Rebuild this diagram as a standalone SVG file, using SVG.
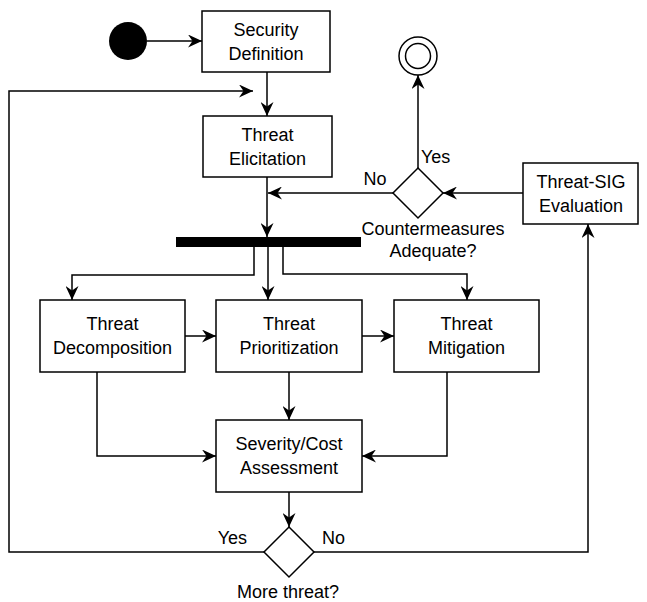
<svg xmlns="http://www.w3.org/2000/svg" width="647" height="602" viewBox="0 0 647 602">
<style>
.box{fill:#fff;stroke:#000;stroke-width:1.5}
.dia{fill:#fff;stroke:#000;stroke-width:1.5}
.t{font-family:"Liberation Sans",Arial,sans-serif;font-size:18px;fill:#000}
.c{text-anchor:middle}
.e{text-anchor:end}
.ln{fill:none;stroke:#000;stroke-width:1.5}
.a{marker-end:url(#arr)}
</style>
<defs>
<marker id="arr" markerUnits="userSpaceOnUse" markerWidth="15" markerHeight="13" refX="14" refY="6.5" orient="auto">
<path d="M0,0 L14,6.5 L0,13 L4.5,6.5 Z" fill="#000"/>
</marker>
</defs>
<rect width="647" height="602" fill="#fff"/>
<g id="connectors">
<path class="ln a" d="M147,41 H202"/>
<path class="ln a" d="M267,72 V116"/>
<path class="ln a" d="M264,552 H9 V91 H253"/>
<path class="ln a" d="M267,177 V237"/>
<path class="ln a" d="M393,193 H268"/>
<path class="ln a" d="M523,193 H443"/>
<path class="ln a" d="M418,168 V75"/>
<path class="ln a" d="M254,247 V275 H72 V300"/>
<path class="ln a" d="M268,247 V300"/>
<path class="ln a" d="M283,247 V274 H467 V300"/>
<path class="ln a" d="M185,336 H216"/>
<path class="ln a" d="M362,336 H394"/>
<path class="ln a" d="M97,372 V456 H216"/>
<path class="ln a" d="M289,372 V420"/>
<path class="ln a" d="M447,372 V456 H362"/>
<path class="ln a" d="M289,492 V527"/>
<path class="ln a" d="M314,552 H588 V224"/>
</g>
<g id="start"><circle cx="128" cy="41" r="19" fill="#000"/></g>
<g id="end"><circle cx="418" cy="56" r="19" fill="#fff" stroke="#000" stroke-width="1.5"/><circle cx="418" cy="56" r="12.5" fill="none" stroke="#000" stroke-width="1.5"/></g>
<g id="security-definition"><rect class="box" x="202" y="11" width="128" height="61"/><text class="t c" x="266" y="35.5">Security</text><text class="t c" x="266" y="59.5">Definition</text></g>
<g id="threat-elicitation"><rect class="box" x="203" y="116" width="129" height="61"/><text class="t c" x="267.5" y="140.5">Threat</text><text class="t c" x="267.5" y="164.5">Elicitation</text></g>
<g id="fork"><rect x="176" y="237" width="185" height="10" fill="#000"/></g>
<g id="threat-decomposition"><rect class="box" x="40" y="300" width="145" height="72"/><text class="t c" x="112.5" y="330">Threat</text><text class="t c" x="112.5" y="354">Decomposition</text></g>
<g id="threat-prioritization"><rect class="box" x="216" y="300" width="146" height="72"/><text class="t c" x="289" y="330">Threat</text><text class="t c" x="289" y="354">Prioritization</text></g>
<g id="threat-mitigation"><rect class="box" x="394" y="300" width="145" height="72"/><text class="t c" x="466.5" y="330">Threat</text><text class="t c" x="466.5" y="354">Mitigation</text></g>
<g id="severity-cost"><rect class="box" x="216" y="420" width="146" height="72"/><text class="t c" x="289" y="450">Severity/Cost</text><text class="t c" x="289" y="474">Assessment</text></g>
<g id="threat-sig"><rect class="box" x="523" y="163" width="115" height="61"/><text class="t c" x="581" y="187.5">Threat-SIG</text><text class="t c" x="581" y="211.5">Evaluation</text></g>
<g id="countermeasures-decision"><polygon class="dia" points="418,168 443,193 418,218 393,193"/><text class="t c" x="433" y="235">Countermeasures</text><text class="t c" x="433" y="257">Adequate?</text><text class="t" x="421" y="163">Yes</text><text class="t c" x="375" y="185">No</text></g>
<g id="more-threat-decision"><polygon class="dia" points="289,527 314,552 289,577 264,552"/><text class="t e" x="247" y="544">Yes</text><text class="t" x="322" y="544">No</text><text class="t c" x="288" y="598">More threat?</text></g>
</svg>
